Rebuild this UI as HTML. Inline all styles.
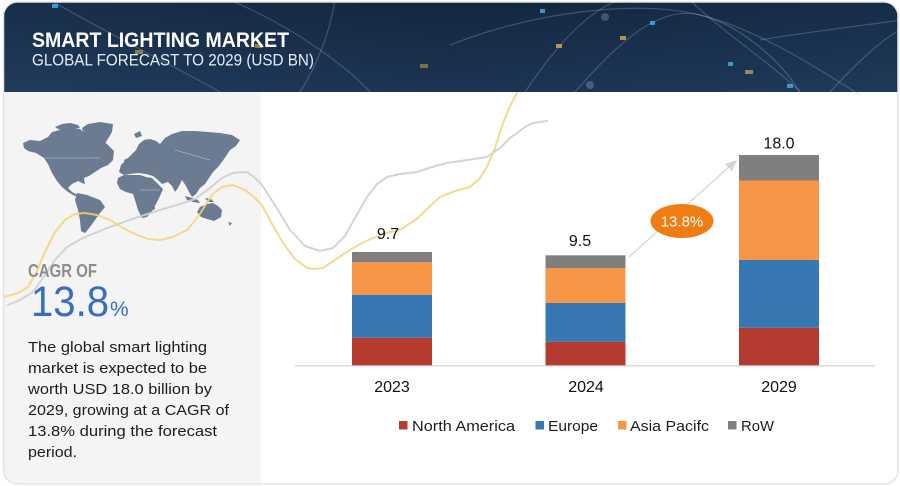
<!DOCTYPE html>
<html><head><meta charset="utf-8"><style>
html,body{margin:0;padding:0;background:#fff;}
svg{display:block;}
text{font-family:"Liberation Sans",sans-serif;}
</style></head><body>
<svg width="900" height="486" viewBox="0 0 900 486" xmlns="http://www.w3.org/2000/svg">
<defs>
<clipPath id="card"><rect x="3.5" y="2" width="894.5" height="482" rx="14" ry="14"/></clipPath>
<linearGradient id="hdr" x1="0" y1="0" x2="1" y2="0">
<stop offset="0" stop-color="#1c3656"/>
<stop offset="0.5" stop-color="#172d4a"/>
<stop offset="1" stop-color="#1a3454"/>
</linearGradient>
<linearGradient id="hdrv" x1="0" y1="0" x2="0" y2="1">
<stop offset="0" stop-color="#000" stop-opacity="0.15"/>
<stop offset="1" stop-color="#3a5a80" stop-opacity="0.15"/>
</linearGradient>
</defs>
<g clip-path="url(#card)">
<rect x="0" y="0" width="900" height="486" fill="#ffffff"/>
<!-- header -->
<rect x="0" y="0" width="900" height="92" fill="url(#hdr)"/>
<rect x="0" y="0" width="900" height="92" fill="url(#hdrv)"/>
<g fill="none" stroke="#9fb4cc" stroke-opacity="0.3" stroke-width="1.2">
<path d="M450,45 C540,10 640,0 700,15 C760,30 820,70 860,95"/>
<path d="M575,92 C620,40 660,5 700,15 C740,25 780,60 800,92"/>
<path d="M525,92 C560,40 590,10 620,0"/>
<path d="M230,0 C300,30 350,70 370,92"/>
<path d="M50,0 C120,40 200,80 220,92"/>
<path d="M760,40 C820,30 870,25 900,20"/>
<path d="M830,92 C850,70 880,40 900,30"/>
<path d="M690,0 C720,30 780,70 800,92"/>
<path d="M300,92 C320,60 330,30 335,0"/>
</g>
<g>
<rect x="556" y="44" width="6" height="4" fill="#e8c24a" opacity="0.7"/>
<rect x="620" y="36" width="6" height="4" fill="#e8c24a" opacity="0.7"/>
<rect x="745" y="70" width="8" height="4" fill="#e8c24a" opacity="0.6"/>
<rect x="540" y="9" width="5" height="4" fill="#3fb6e8" opacity="0.8"/>
<rect x="650" y="21" width="5" height="4" fill="#3fb6e8" opacity="0.8"/>
<rect x="728" y="62" width="5" height="4" fill="#3fb6e8" opacity="0.8"/>
<rect x="787" y="84" width="6" height="4" fill="#3fb6e8" opacity="0.8"/>
<rect x="135" y="50" width="8" height="4" fill="#d6b84a" opacity="0.6"/>
<rect x="255" y="44" width="8" height="4" fill="#d6b84a" opacity="0.6"/>
<rect x="52" y="4" width="6" height="4" fill="#3fb6e8" opacity="0.8"/>
<rect x="420" y="64" width="8" height="4" fill="#d6b84a" opacity="0.5"/>
<circle cx="605" cy="17" r="4" fill="#ffffff" opacity="0.2"/>
<circle cx="590" cy="85" r="4" fill="#ffffff" opacity="0.2"/>
</g>
<text x="32" y="47" font-size="21" font-weight="bold" fill="#ffffff" textLength="257" lengthAdjust="spacingAndGlyphs">SMART LIGHTING MARKET</text>
<text x="32" y="65.5" font-size="17" fill="#e6edf5" textLength="282" lengthAdjust="spacingAndGlyphs">GLOBAL FORECAST TO 2029 (USD BN)</text>

<!-- left panel -->
<rect x="0" y="92" width="261" height="400" fill="#f4f4f4"/>

<!-- world map -->
<g fill="#6b7b91">
<polygon points="23,143 30,140 40,141 48,137 52,132 60,130 70,128 80,129 86,134 92,139 97,142 102,140 108,145 114,151 113,160 108,165 101,168 95,172 89,176 84,178 85,184 82,183 78,181 72,184 68,188 72,192 78,195 75,196 68,192 62,187 57,181 52,173 48,164 44,158 36,153 28,151 24,148"/>
<polygon points="55,127 62,124 70,123 78,125 80,128 70,129 60,130"/>
<polygon points="82,128 88,124 100,122 113,124 112,132 106,142 100,152 96,158 93,150 88,140 84,134"/>
<polygon points="77,193 87,195 100,200 105,207 100,213 95,220 90,227 85,233 81,231 80,220 78,210 75,200"/>
<polygon points="119,172 121,165 126,160 131,155 136,150 139,144 144,140 150,139 156,141 160,144 165,138 172,134 182,131 195,131 208,132 220,133 232,135 240,140 236,146 230,150 226,156 222,162 218,167 213,172 209,178 205,184 200,188 196,194 192,197 189,192 186,186 182,180 178,188 175,192 172,186 168,182 162,184 158,180 153,176 146,174 138,173 130,174 124,175"/>
<polygon points="118,178 124,175 132,175 140,175 146,177 152,178 157,183 163,189 160,196 156,204 152,211 147,217 142,218 138,210 135,200 133,194 126,192 120,189 117,183"/>
<polygon points="200,207 207,204 213,203 218,206 222,210 221,217 214,221 207,219 201,217 197,212"/>
<polygon points="185,196 192,198 198,200 200,203 193,202 187,200"/>
<polygon points="205,198 211,199 214,202 208,202"/>
<polygon points="150,203 154,201 155,209 151,211"/>
<polygon points="228,222 232,223 230,226"/>
<polygon points="134,134 140,131 142,136 136,138"/>
<polygon points="124,160 128,158 129,163 125,164"/>
</g>
<g fill="none" stroke="#f4f4f4" stroke-width="0.5" opacity="0.7">
<path d="M45,158 L100,158"/>
<path d="M140,190 L160,190"/>
<path d="M175,150 L210,160"/>
</g>

<!-- decorative curves -->
<polyline fill="none" stroke="#cfcfcf" stroke-width="2" stroke-linejoin="round" stroke-linecap="round" opacity="0.9"
points="8,305 20,300 33,292 45,275 55,260 67,247 85,237 110,227 135,218 160,210 180,204 195,199 210,188 222,178 233,173 247,172 255,178 262,185 275,205 290,230 305,246 320,251 333,248 345,236 355,218 367,197 377,184 387,177 400,174 417,172 432,167 447,163 467,160 487,157 500,148 510,138 517,133 525,127 533,123 547,121"/>
<polyline fill="none" stroke="#f3d27a" stroke-width="2" stroke-linejoin="round" stroke-linecap="round" opacity="0.85"
points="4,297 18,293 28,287 36,273 45,252 55,232 65,220 75,214 85,213 97,215 110,220 123,228 135,234 148,239 160,240 173,237 187,230 198,217 206,204 213,194 222,187 233,185 245,190 255,198 262,205 272,224 283,243 295,259 307,268 315,269 323,268 336,259 350,250 362,243 373,238 386,233 400,230 418,218 430,206 440,197 455,191 470,187 480,178 487,167 495,148 503,123 510,106 517,93"/>

<!-- left text -->
<text x="28" y="277" font-size="18" font-weight="bold" fill="#8d8d8d" textLength="69" lengthAdjust="spacingAndGlyphs">CAGR OF</text>
<text x="31" y="316" font-size="43" fill="#3b6dbf" textLength="78" lengthAdjust="spacingAndGlyphs">13.8</text>
<text x="110" y="316" font-size="21" fill="#3b6dbf">%</text>
<g font-size="15" fill="#1c1c1c">
<text x="28" y="352" textLength="179" lengthAdjust="spacingAndGlyphs">The global smart lighting</text>
<text x="28" y="373" textLength="179" lengthAdjust="spacingAndGlyphs">market is expected to be</text>
<text x="28" y="394" textLength="184" lengthAdjust="spacingAndGlyphs">worth USD 18.0 billion by</text>
<text x="28" y="415" textLength="201" lengthAdjust="spacingAndGlyphs">2029, growing at a CAGR of</text>
<text x="28" y="436" textLength="189" lengthAdjust="spacingAndGlyphs">13.8% during the forecast</text>
<text x="28" y="457" textLength="49" lengthAdjust="spacingAndGlyphs">period.</text>
</g>

<!-- axis -->
<line x1="295" y1="365.8" x2="875" y2="365.8" stroke="#d9d9d9" stroke-width="1.5"/>

<!-- bars 2023 -->
<rect x="352" y="337.7" width="80" height="27.6" fill="#b33b30"/>
<rect x="352" y="294.7" width="80" height="43" fill="#3778b4"/>
<rect x="352" y="262.3" width="80" height="32.4" fill="#f79646"/>
<rect x="352" y="252" width="80" height="10.3" fill="#7f7f7f"/>
<!-- bars 2024 -->
<rect x="545.5" y="341.7" width="80" height="23.6" fill="#b33b30"/>
<rect x="545.5" y="303" width="80" height="38.7" fill="#3778b4"/>
<rect x="545.5" y="268" width="80" height="35" fill="#f79646"/>
<rect x="545.5" y="255.3" width="80" height="12.7" fill="#7f7f7f"/>
<!-- bars 2029 -->
<rect x="739" y="327.7" width="80" height="37.6" fill="#b33b30"/>
<rect x="739" y="260" width="80" height="67.7" fill="#3778b4"/>
<rect x="739" y="180.5" width="80" height="79.5" fill="#f79646"/>
<rect x="739" y="155" width="80" height="25.5" fill="#7f7f7f"/>

<!-- value labels -->
<g font-size="16" fill="#111" text-anchor="middle">
<text x="388" y="239">9.7</text>
<text x="580" y="246">9.5</text>
<text x="779" y="148.5">18.0</text>
</g>
<!-- years -->
<g font-size="16" fill="#111" text-anchor="middle">
<text x="392" y="392">2023</text>
<text x="586" y="392">2024</text>
<text x="779" y="392">2029</text>
</g>

<!-- CAGR arrow -->
<line x1="629" y1="257" x2="731" y2="165" stroke="#d4d4d4" stroke-width="1.2"/>
<polygon points="737,160 725,164 732,171" fill="#d4d4d4"/>
<ellipse cx="682" cy="221" rx="31.5" ry="17" fill="#f07d13"/>
<text x="682" y="226.5" font-size="15" fill="#ffffff" text-anchor="middle">13.8%</text>

<!-- legend -->
<g font-size="15" fill="#1c1c1c">
<rect x="399" y="421" width="8.5" height="8.5" fill="#b33b30"/>
<text x="412" y="431" textLength="103" lengthAdjust="spacingAndGlyphs">North America</text>
<rect x="535.5" y="421" width="8.5" height="8.5" fill="#3778b4"/>
<text x="548" y="431" textLength="50" lengthAdjust="spacingAndGlyphs">Europe</text>
<rect x="618" y="421" width="8.5" height="8.5" fill="#f79646"/>
<text x="630" y="431" textLength="79" lengthAdjust="spacingAndGlyphs">Asia Pacifc</text>
<rect x="728" y="421" width="8.5" height="8.5" fill="#7f7f7f"/>
<text x="741" y="431" textLength="33" lengthAdjust="spacingAndGlyphs">RoW</text>
</g>
</g>
<rect x="3.5" y="2" width="894.5" height="482" rx="14" ry="14" fill="none" stroke="#e3e3e3" stroke-width="1.5"/>
</svg>
</body></html>
